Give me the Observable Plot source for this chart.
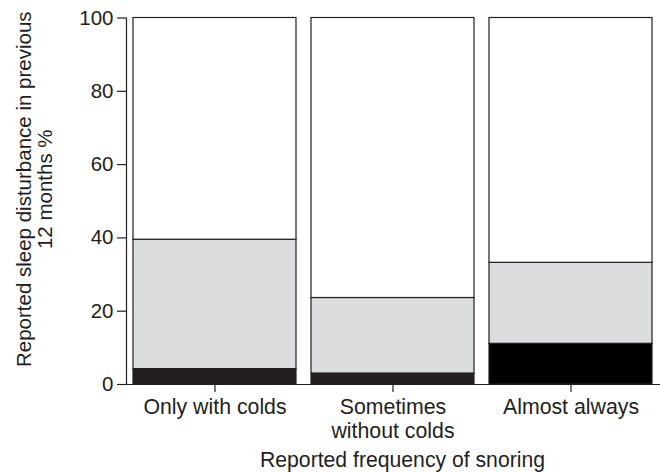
<!DOCTYPE html>
<html><head><meta charset="utf-8">
<script src="https://cdn.jsdelivr.net/npm/d3@7"></script>
<script src="https://cdn.jsdelivr.net/npm/@observablehq/plot@0.6"></script>
<style>body{margin:0;background:#fff}</style>
</head><body><div id="chart"></div>
<script>
const categories = ["Only with colds", "Sometimes\nwithout colds", "Almost always"];
const blackPct = [4.2, 3.0, 11.1];
const greyPct = [35.3, 20.6, 22.1];
const whitePct = [60.5, 76.4, 66.8];
const yTicks = [0, 20, 40, 60, 80, 100];
const yTitle = "Reported sleep disturbance in previous\n12 months %";
const xTitle = "Reported frequency of snoring";

const rows = [];
categories.forEach((c, i) => {
  rows.push({cat: c, seg: "black", value: blackPct[i]});
  rows.push({cat: c, seg: "grey", value: greyPct[i]});
  rows.push({cat: c, seg: "white", value: whitePct[i]});
});

const ink = "#231f20";
const segFill = d => d.seg === "black" ? (d.cat === categories[2] ? "#000000" : ink)
  : d.seg === "grey" ? "#dcdddf" : "#ffffff";

const yAxisLine = (index, scales, values, dims) => {
  const l = document.createElementNS("http://www.w3.org/2000/svg", "line");
  const x = dims.marginLeft + 0.5;
  l.setAttribute("x1", x); l.setAttribute("x2", x);
  l.setAttribute("y1", scales.y(100)); l.setAttribute("y2", scales.y(0));
  l.setAttribute("stroke", ink); l.setAttribute("stroke-width", 1.2);
  return l;
};

const chart = Plot.plot({
  width: 660, height: 472,
  marginLeft: 126, marginRight: 0, marginTop: 17.5, marginBottom: 88,
  style: {fontFamily: "'Liberation Sans', Arial, sans-serif", fontSize: "20.5px", color: ink, background: "#fff"},
  x: {domain: categories, paddingInner: 0.084, paddingOuter: 0.042, label: null},
  y: {domain: [0, 100], label: null},
  color: {type: "identity"},
  marks: [
    Plot.barY(rows, {x: "cat", y: "value", fill: segFill, stroke: ink, strokeWidth: 1.2, inset: 0}),
    Plot.ruleY([0], {stroke: ink, strokeWidth: 1.2}),
    yAxisLine,
    Plot.axisY({ticks: yTicks, tickSize: 9, tickPadding: 4, label: null, strokeWidth: 1.2}),
    Plot.axisX({tickSize: 8, tickPadding: 4.5, label: null, lineHeight: 1.13, fontSize: 21.3, strokeWidth: 1.2}),
    Plot.text([yTitle], {text: d => d, frameAnchor: "left", textAnchor: "middle", lineAnchor: "middle", rotate: -90, dx: -92, dy: -12, lineHeight: 1.05}),
    Plot.text([xTitle], {text: d => d, frameAnchor: "bottom", textAnchor: "middle", lineAnchor: "middle", dx: 9, dy: 75.5, fontSize: 21.2})
  ]
});
document.getElementById("chart").appendChild(chart);
</script>
</body></html>
